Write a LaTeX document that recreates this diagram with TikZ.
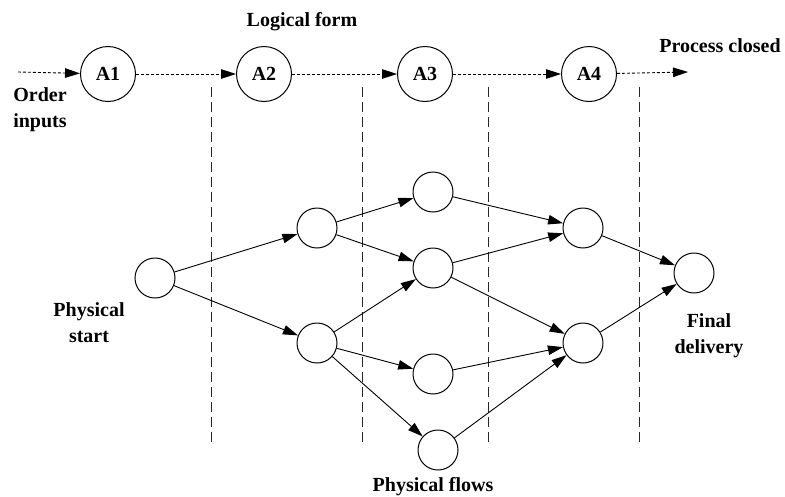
\documentclass[tikz,border=0pt]{standalone}
\usepackage{fontspec}
\setmainfont{Liberation Serif}
\usetikzlibrary{arrows.meta}
\begin{document}
\begin{tikzpicture}[x=1pt,y=-1pt,
  every node/.style={font=\fontsize{20}{26}\selectfont\bfseries},
  topc/.style={draw,circle,line width=1pt,minimum size=55pt,inner sep=0pt},
  botc/.style={draw,circle,line width=1pt,minimum size=40pt,inner sep=0pt},
  lbl/.style={align=center,inner sep=0pt},
  flow/.style={line width=0.9pt,-{Triangle[length=15pt,width=9.5pt]}},
  logic/.style={line width=0.9pt,dash pattern=on 3pt off 2pt,-{Triangle[length=15pt,width=9.5pt]}},
  sep/.style={line width=0.9pt,black!85,dash pattern=on 10pt off 5pt}]
\useasboundingbox (0,0) rectangle (785,496);
% top logical chain
\node[topc] (A1) at (108,74) {A1};
\node[topc] (A2) at (264,74) {A2};
\node[topc] (A3) at (425,74) {A3};
\node[topc] (A4) at (589,74) {A4};
\coordinate (in) at (18,72);
\coordinate (out) at (688,72);
\draw[logic] (in) -- (A1);
\draw[logic] (A1) -- (A2);
\draw[logic] (A2) -- (A3);
\draw[logic] (A3) -- (A4);
\draw[logic] (A4) -- (out);
\node[lbl] (lf) at (302,22) {Logical form};
\node[lbl] (pc) at (720,46) {Process closed};
\node[lbl] (oi) at (40,110) {Order\\inputs};
% separators
\foreach \i/\x in {1/211,2/362,3/488,4/639}{
  \coordinate (s\i t) at (\x,87);
  \coordinate (s\i b) at (\x,447);
  \draw[sep] (s\i t) -- (s\i b);
}
% physical network
\node[botc] (S) at (155,278) {};
\node[botc] (B1) at (317,228) {};
\node[botc] (B2) at (317,343) {};
\node[botc] (C1) at (433,192) {};
\node[botc] (C2) at (433,268) {};
\node[botc] (C3) at (433,374) {};
\node[botc] (C4) at (438,450) {};
\node[botc] (D1) at (583,228) {};
\node[botc] (D2) at (583,343) {};
\node[botc] (E) at (694,273) {};
\draw[flow] (S) -- (B1);
\draw[flow] (S) -- (B2);
\draw[flow] (B1) -- (C1);
\draw[flow] (B1) -- (C2);
\draw[flow] (B2) -- (C2);
\draw[flow] (B2) -- (C3);
\draw[flow] (B2) -- (C4);
\draw[flow] (C1) -- (D1);
\draw[flow] (C2) -- (D1);
\draw[flow] (C2) -- (D2);
\draw[flow] (C3) -- (D2);
\draw[flow] (C4) -- (D2);
\draw[flow] (D1) -- (E);
\draw[flow] (D2) -- (E);
\node[lbl] (ps) at (89,323) {Physical\\start};
\node[lbl] (fd) at (709,336) {Final\\delivery};
\node[lbl] (pf) at (433,487) {Physical flows};
\end{tikzpicture}
\end{document}
